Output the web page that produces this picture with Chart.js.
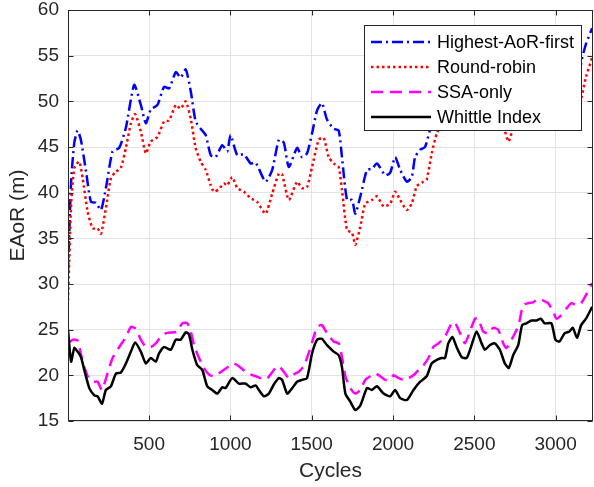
<!DOCTYPE html>
<html>
<head>
<meta charset="utf-8">
<script src="https://cdn.jsdelivr.net/npm/chart.js@4.4.0/dist/chart.umd.min.js"></script>
<style>
html, body { margin: 0; padding: 0; background: #fff; }
</style>
</head>
<body>
<canvas id="chart" width="594" height="487"></canvas>
<script>
// values (cycles, EAoR in m)
const xTicks = [500, 1000, 1500, 2000, 2500, 3000]

const hafX = [1, 20, 40, 60, 80, 112, 142, 173, 204, 234, 275, 316, 357, 408, 449, 480, 510, 551, 592, 623, 664, 694, 725, 756, 786, 817, 848, 879, 909, 950, 980, 1001, 1042, 1083, 1124, 1155, 1216, 1257, 1298, 1328, 1359, 1410, 1440, 1471, 1502, 1533, 1563, 1594, 1635, 1666, 1686, 1717, 1748, 1768, 1799, 1840, 1870, 1901, 1952, 1983, 2013, 2044, 2085, 2115, 2136, 2167, 2197, 2228, 2270, 2300, 2350, 2380, 2420, 2450, 2500, 2520, 2560, 2600, 2640, 2680, 2710, 2750, 2800, 2850, 2900, 2950, 3000, 3050, 3100, 3140, 3160, 3187, 3225]
const hafY = [31.2, 41.2, 45.5, 46.8, 45.8, 42.3, 39.0, 38.9, 38.1, 40.5, 44.5, 44.9, 47.1, 51.8, 49.6, 47.6, 49.1, 49.6, 51.6, 51.4, 53.2, 52.6, 53.5, 51.1, 47.8, 47.0, 46.3, 44.1, 43.9, 45.2, 44.5, 46.3, 44.1, 44.2, 43.2, 43.3, 41.2, 42.5, 45.8, 45.5, 42.8, 44.9, 43.9, 44.3, 46.5, 49.0, 49.8, 48.0, 47.0, 46.8, 43.9, 39.2, 39.2, 37.7, 39.6, 42.5, 42.6, 43.2, 41.9, 42.2, 43.9, 42.5, 41.2, 41.7, 43.9, 44.7, 45.0, 46.9, 49.0, 50.0, 52.5, 53.5, 52.0, 51.0, 53.0, 54.0, 51.0, 51.5, 52.0, 50.5, 49.5, 51.0, 55.0, 55.5, 56.0, 55.5, 53.0, 53.5, 53.8, 52.5, 54.5, 56.3, 58.0]

const rrX = [1, 20, 40, 70, 91, 122, 152, 183, 204, 234, 265, 296, 326, 357, 388, 414, 449, 480, 510, 551, 592, 623, 664, 694, 725, 756, 786, 817, 848, 879, 899, 929, 960, 980, 1011, 1042, 1083, 1124, 1164, 1216, 1257, 1298, 1318, 1359, 1410, 1440, 1471, 1502, 1543, 1574, 1604, 1635, 1666, 1686, 1717, 1748, 1768, 1799, 1829, 1870, 1901, 1942, 1983, 2013, 2044, 2085, 2115, 2146, 2187, 2207, 2238, 2269, 2300, 2350, 2380, 2420, 2450, 2500, 2520, 2565, 2600, 2640, 2680, 2710, 2740, 2780, 2820, 2870, 2920, 2960, 3000, 3050, 3100, 3140, 3160, 3187, 3225]
const rrY = [28.2, 38.6, 42.7, 43.4, 41.6, 37.9, 36.1, 36.1, 35.5, 38.3, 41.6, 42.3, 42.7, 44.9, 47.6, 48.6, 46.7, 44.3, 45.6, 46.1, 47.8, 47.9, 49.6, 49.2, 50.0, 48.1, 44.9, 43.4, 42.5, 40.8, 40.1, 40.4, 41.0, 40.8, 41.7, 40.5, 40.1, 39.4, 39.0, 37.7, 39.9, 42.1, 42.0, 39.2, 41.2, 40.5, 40.6, 42.8, 45.8, 46.0, 43.9, 43.2, 42.8, 40.3, 35.9, 35.6, 34.3, 36.3, 38.8, 39.2, 39.6, 38.5, 38.8, 40.1, 39.2, 38.1, 38.8, 40.7, 41.2, 41.4, 44.3, 46.5, 47.5, 49.5, 50.5, 49.2, 48.3, 50.0, 50.8, 46.8, 48.0, 48.5, 47.2, 45.6, 47.2, 49.5, 51.5, 52.0, 52.5, 52.0, 49.8, 50.2, 50.8, 49.3, 50.5, 52.7, 54.8]

const ssaX = [1, 30, 60, 91, 122, 152, 183, 210, 244, 275, 316, 357, 388, 418, 449, 480, 510, 541, 572, 602, 643, 674, 704, 735, 756, 776, 807, 837, 868, 899, 929, 960, 991, 1021, 1052, 1093, 1124, 1155, 1185, 1216, 1247, 1277, 1298, 1328, 1359, 1390, 1420, 1451, 1481, 1512, 1533, 1563, 1594, 1635, 1666, 1686, 1707, 1738, 1768, 1799, 1829, 1860, 1891, 1921, 1952, 1983, 2003, 2034, 2064, 2095, 2126, 2157, 2187, 2218, 2248, 2279, 2310, 2330, 2361, 2381, 2412, 2443, 2473, 2504, 2524, 2555, 2586, 2616, 2647, 2678, 2698, 2729, 2760, 2780, 2800, 2831, 2862, 2893, 2923, 2954, 2985, 3005, 3035, 3066, 3097, 3127, 3157, 3187, 3225]
const ssaY = [23.5, 23.9, 23.8, 21.5, 19.9, 19.3, 19.3, 18.4, 20.2, 21.9, 23.1, 24.2, 25.3, 25.1, 23.9, 23.1, 23.1, 23.5, 24.2, 24.6, 24.7, 24.8, 25.7, 25.7, 24.8, 23.3, 21.9, 20.8, 20.1, 19.9, 20.2, 20.6, 21.0, 21.3, 21.0, 20.4, 20.1, 19.9, 19.7, 19.5, 20.1, 20.8, 21.0, 20.4, 19.7, 20.1, 20.4, 21.0, 22.4, 24.2, 25.3, 25.5, 24.6, 23.7, 23.5, 22.0, 19.9, 18.6, 18.0, 18.4, 19.5, 19.9, 20.2, 19.9, 19.5, 19.5, 20.0, 19.7, 19.5, 19.7, 20.0, 20.6, 21.1, 21.9, 23.1, 23.5, 24.0, 24.6, 25.7, 25.8, 24.6, 23.5, 24.8, 26.2, 26.2, 24.8, 24.6, 25.2, 25.0, 23.5, 23.0, 23.9, 25.0, 26.1, 27.7, 27.9, 28.0, 28.4, 28.2, 27.9, 27.0, 26.2, 26.6, 27.3, 27.9, 27.7, 27.9, 28.8, 30.1]

const wiX = [1, 20, 40, 60, 81, 101, 132, 163, 183, 210, 234, 265, 296, 326, 357, 388, 414, 449, 480, 510, 541, 561, 592, 633, 664, 694, 725, 745, 766, 796, 827, 857, 888, 919, 950, 970, 1011, 1052, 1093, 1124, 1155, 1175, 1206, 1236, 1267, 1298, 1318, 1349, 1380, 1410, 1440, 1471, 1502, 1533, 1563, 1594, 1635, 1666, 1686, 1707, 1738, 1768, 1799, 1840, 1870, 1901, 1942, 1983, 2013, 2044, 2085, 2126, 2167, 2207, 2238, 2269, 2299, 2320, 2340, 2365, 2391, 2422, 2453, 2483, 2514, 2545, 2565, 2595, 2626, 2657, 2688, 2712, 2739, 2770, 2794, 2821, 2852, 2883, 2909, 2933, 2974, 2999, 3024, 3055, 3085, 3106, 3132, 3157, 3187, 3225]
const wiY = [25.0, 21.5, 23.0, 22.6, 22.0, 20.6, 18.6, 17.8, 17.7, 16.9, 18.4, 18.8, 20.2, 20.3, 21.3, 22.6, 23.6, 22.6, 21.3, 21.9, 21.5, 22.4, 23.1, 22.8, 23.9, 23.9, 24.7, 24.5, 22.8, 21.1, 20.6, 18.8, 18.4, 18.0, 18.7, 18.6, 19.7, 19.1, 19.1, 18.7, 18.9, 18.4, 17.7, 18.0, 19.0, 19.7, 19.5, 18.0, 18.6, 19.3, 19.5, 19.7, 22.4, 23.9, 24.0, 23.3, 22.6, 22.2, 20.9, 18.0, 17.1, 16.2, 16.7, 18.6, 18.4, 18.8, 18.0, 17.7, 18.4, 17.5, 17.3, 18.4, 19.3, 19.9, 21.3, 21.7, 21.9, 21.9, 23.5, 24.2, 23.1, 22.0, 21.9, 23.3, 24.8, 23.5, 22.8, 23.3, 23.5, 22.8, 21.3, 20.8, 22.2, 23.3, 25.5, 25.7, 26.0, 26.0, 26.2, 25.7, 25.7, 23.9, 23.7, 24.6, 24.8, 25.2, 24.1, 25.5, 26.2, 27.5]

const axisColor = '#262626'
const fontFamily = '"Liberation Sans", Arial, Helvetica, sans-serif'

function toPoints(xs, ys) {
    return xs.map((x, i) => ({x: x, y: ys[i]}))
}

// box, inward tick marks like matlab
const axesBox = {
    id: 'axesBox',
    afterDatasetsDraw(chart) {
        const {ctx, chartArea: a, scales} = chart
        const l = Math.round(a.left) + 0.5, r = Math.round(a.right) - 0.5
        const t = Math.round(a.top) + 0.5, b = Math.round(a.bottom) - 0.5
        ctx.save()
        ctx.strokeStyle = axisColor
        ctx.lineWidth = 1
        ctx.beginPath()
        for (const v of xTicks) {
            const p = Math.round(scales.x.getPixelForValue(v)) + 0.5
            ctx.moveTo(p, b); ctx.lineTo(p, b - 5)
            ctx.moveTo(p, t); ctx.lineTo(p, t + 5)
        }
        for (const tk of scales.y.ticks) {
            const p = Math.round(scales.y.getPixelForValue(tk.value)) + 0.5
            ctx.moveTo(l, p); ctx.lineTo(l + 5, p)
            ctx.moveTo(r, p); ctx.lineTo(r - 5, p)
        }
        ctx.stroke()
        ctx.strokeRect(l, t, r - l, b - t)
        ctx.restore()
    }
}

// legend box inside the top right corner
const innerLegend = {
    id: 'innerLegend',
    afterDraw(chart) {
        const {ctx, chartArea: a} = chart
        const w = 217, h = 105
        const x0 = Math.round(a.right) - 12 - w, y0 = Math.round(a.top) + 15
        ctx.save()
        ctx.fillStyle = '#fff'
        ctx.fillRect(x0, y0, w, h)
        ctx.strokeStyle = axisColor
        ctx.lineWidth = 1
        ctx.strokeRect(x0 + 0.5, y0 + 0.5, w, h)
        ctx.font = '18px ' + fontFamily
        ctx.textBaseline = 'middle'
        ctx.fillStyle = '#000'
        chart.data.datasets.forEach((ds, i) => {
            const cy = y0 + 17 + i * 25
            ctx.save()
            ctx.strokeStyle = ds.borderColor
            ctx.lineWidth = ds.borderWidth
            ctx.setLineDash(ds.borderDash || [])
            ctx.beginPath()
            ctx.moveTo(x0 + 7, cy)
            ctx.lineTo(x0 + 67, cy)
            ctx.stroke()
            ctx.restore()
            ctx.fillText(ds.label, x0 + 73, cy + 1)
        })
        ctx.restore()
    }
}

const data = {
    datasets: [
        {label: 'Highest-AoR-first', data: toPoints(hafX, hafY), borderColor: '#0000ff', borderWidth: 2.5, borderDash: [11, 4, 2, 4], order: 3},
        {label: 'Round-robin', data: toPoints(rrX, rrY), borderColor: '#ff0000', borderWidth: 2.5, borderDash: [2.5, 3], order: 2},
        {label: 'SSA-only', data: toPoints(ssaX, ssaY), borderColor: '#ff00ff', borderWidth: 2.5, borderDash: [12, 7], order: 1},
        {label: 'Whittle Index', data: toPoints(wiX, wiY), borderColor: '#000000', borderWidth: 2.5, order: 0}
    ]
}

const config = {
    type: 'line',
    data: data,
    options: {
        responsive: false,
        animation: false,
        devicePixelRatio: 1,
        layout: {padding: {top: 10, right: 1, left: 0, bottom: 0}},
        elements: {point: {radius: 0}, line: {tension: 0.2, fill: false}},
        plugins: {legend: {display: false}, tooltip: {enabled: false}},
        scales: {
            x: {
                type: 'linear',
                min: 1,
                max: 3230,
                afterBuildTicks(scale) { scale.ticks = xTicks.map(v => ({value: v})) },
                afterFit(scale) {
                    scale.height = 66
                    scale.paddingLeft = 0
                    scale.paddingRight = 0
                },
                grid: {color: '#e3e3e3', drawTicks: false},
                border: {display: false},
                ticks: {color: axisColor, font: {family: fontFamily, size: 19}, padding: 12, maxRotation: 0, callback: v => String(v)},
                title: {display: true, text: 'Cycles', color: axisColor, font: {family: fontFamily, size: 21}, padding: {top: 0, bottom: 3}}
            },
            y: {
                min: 15,
                max: 60,
                afterFit(scale) {
                    scale.width = 68
                    scale.paddingTop = 0
                    scale.paddingBottom = 0
                },
                grid: {color: '#e3e3e3', drawTicks: false},
                border: {display: false},
                ticks: {stepSize: 5, color: axisColor, font: {family: fontFamily, size: 19}, padding: 9, callback: v => String(v)},
                title: {display: true, text: 'EAoR (m)', color: axisColor, font: {family: fontFamily, size: 21}, padding: {top: 6, bottom: 0}}
            }
        }
    },
    plugins: [axesBox, innerLegend]
}

let ctx = document.getElementById('chart').getContext('2d')
new Chart(ctx, config)
</script>
</body>
</html>
